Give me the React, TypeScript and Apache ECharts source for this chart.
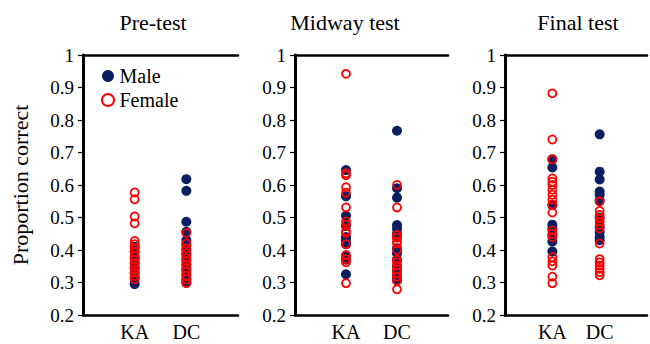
import React, { useEffect, useRef } from 'react';
import * as echarts from 'echarts';

const categories = ['KA', 'DC'];
const panelTitles = ['Pre-test', 'Midway test', 'Final test'];
const yAxisName = 'Proportion correct';
const legendNames = ['Male', 'Female'];

// Pre-test
const preMaleKA = [0.41, 0.395, 0.375, 0.36, 0.345, 0.33, 0.315, 0.295];
const preFemaleKA = [0.577, 0.556, 0.503, 0.482, 0.428, 0.418, 0.405, 0.392, 0.38, 0.37, 0.36, 0.35, 0.34, 0.33, 0.32, 0.31];
const preMaleDC = [0.618, 0.582, 0.487, 0.456, 0.43, 0.415, 0.4, 0.385, 0.37, 0.355, 0.34, 0.325, 0.31, 0.3];
const preFemaleDC = [0.452, 0.42, 0.405, 0.39, 0.375, 0.365, 0.355, 0.345, 0.335, 0.32, 0.31, 0.298];

// Midway test
const midMaleKA = [0.646, 0.565, 0.505, 0.474, 0.44, 0.43, 0.418, 0.38, 0.37, 0.325];
const midFemaleKA = [0.942, 0.636, 0.63, 0.593, 0.576, 0.531, 0.488, 0.478, 0.458, 0.452, 0.418, 0.385, 0.372, 0.362, 0.298];
const midMaleDC = [0.767, 0.59, 0.561, 0.477, 0.465, 0.45, 0.44, 0.405, 0.39, 0.37, 0.35, 0.335, 0.32, 0.308];
const midFemaleDC = [0.6, 0.531, 0.446, 0.438, 0.426, 0.42, 0.4, 0.37, 0.362, 0.352, 0.34, 0.33, 0.318, 0.305, 0.279];

// Final test
const finMaleKA = [0.679, 0.654, 0.538, 0.478, 0.465, 0.445, 0.426, 0.395];
const finFemaleKA = [0.882, 0.74, 0.679, 0.62, 0.61, 0.6, 0.585, 0.57, 0.555, 0.54, 0.515, 0.46, 0.45, 0.44, 0.378, 0.365, 0.352, 0.318, 0.298];
const finMaleDC = [0.756, 0.641, 0.617, 0.58, 0.57, 0.552, 0.5, 0.47, 0.455, 0.44, 0.43];
const finFemaleDC = [0.549, 0.52, 0.508, 0.497, 0.487, 0.477, 0.466, 0.42, 0.372, 0.362, 0.352, 0.342, 0.332, 0.322];

const panels = [
  { male: [preMaleKA, preMaleDC], female: [preFemaleKA, preFemaleDC] },
  { male: [midMaleKA, midMaleDC], female: [midFemaleKA, midFemaleDC] },
  { male: [finMaleKA, finMaleDC], female: [finFemaleKA, finFemaleDC] },
];

const FONT = 'Liberation Serif';
const NAVY = '#0a1f62';
const RED = '#ff0000';

const gridLefts = [83, 295, 505];
const gridWidths = [155, 153, 155];
const titleCenters = [153, 345, 578];

function toPoints(cols: number[][]) {
  const pts: number[][] = [];
  cols.forEach((vals, ci) => vals.forEach((v) => pts.push([ci + 1, v])));
  return pts;
}

export default function App() {
  const ref = useRef<HTMLDivElement>(null);
  useEffect(() => {
    if (!ref.current) return;
    const chart = echarts.init(ref.current, undefined, { renderer: 'svg' });
    const grid: any[] = [];
    const xAxis: any[] = [];
    const yAxis: any[] = [];
    const series: any[] = [];
    panels.forEach((p, i) => {
      grid.push({ left: gridLefts[i], top: 55, width: gridWidths[i], height: 260 });
      xAxis.push({
        gridIndex: i, type: 'value', min: 0, max: 3, interval: 1, position: 'bottom',
        axisLine: { show: true, lineStyle: { color: '#000', width: 2.5 } },
        axisTick: { show: false }, splitLine: { show: false },
        axisLabel: {
          fontFamily: FONT, fontSize: 20, color: '#000', margin: 7,
          formatter: (v: number) => categories[v - 1] ?? '',
        },
      });
      xAxis.push({
        gridIndex: i, type: 'value', min: 0, max: 3, position: 'top',
        axisLine: { show: true, lineStyle: { color: '#000', width: 2.5 } },
        axisTick: { show: false }, splitLine: { show: false }, axisLabel: { show: false },
      });
      yAxis.push({
        gridIndex: i, type: 'value', min: 0.2, max: 1, interval: 0.1, position: 'left',
        name: i === 0 ? yAxisName : '', nameLocation: 'middle', nameGap: 52,
        nameTextStyle: { fontFamily: FONT, fontSize: 22, color: '#000' },
        axisLine: { show: true, lineStyle: { color: '#000', width: 3 } },
        axisTick: { show: true, inside: false, length: 5, lineStyle: { color: '#000', width: 1.2 } },
        splitLine: { show: false },
        axisLabel: {
          fontFamily: FONT, fontSize: 19, color: '#000', margin: 9,
          formatter: (v: number) => (Math.abs(v - 1) < 1e-9 ? '1' : v.toFixed(1)),
        },
      });
      yAxis.push({
        gridIndex: i, type: 'value', min: 0.2, max: 1, interval: 0.1, position: 'right',
        axisLine: { show: true, lineStyle: { color: '#000', width: 1.2 } },
        axisTick: { show: false }, splitLine: { show: false }, axisLabel: { show: false },
      });
      series.push({
        name: legendNames[0], type: 'scatter', xAxisIndex: 2 * i, yAxisIndex: 2 * i,
        symbol: 'circle', symbolSize: 10,
        itemStyle: { color: NAVY, opacity: 1 },
        data: toPoints(p.male),
      });
      series.push({
        name: legendNames[1], type: 'scatter', xAxisIndex: 2 * i, yAxisIndex: 2 * i,
        symbol: 'circle', symbolSize: 8,
        itemStyle: { color: 'rgba(255,255,255,0)', borderColor: RED, borderWidth: 1.8, opacity: 1 },
        data: toPoints(p.female),
      });
    });

    chart.setOption({
      animation: false,
      backgroundColor: '#fff',
      textStyle: { fontFamily: FONT },
      grid, xAxis, yAxis, series,
      legend: {
        data: legendNames, orient: 'vertical', left: 96, top: 61,
        itemWidth: 13, itemHeight: 12, itemGap: 4,
        textStyle: { fontFamily: FONT, fontSize: 20, color: '#000' },
      },
      graphic: panelTitles.map((t, i) => ({
        type: 'text', x: titleCenters[i], y: 22,
        style: { text: t, fontFamily: FONT, fontSize: 22, fill: '#000', textAlign: 'center', textVerticalAlign: 'middle' },
      })),
    });
    return () => chart.dispose();
  }, []);
  return <div ref={ref} style={{ position: 'absolute', left: 0, top: 0, width: 650, height: 344 }} />;
}
